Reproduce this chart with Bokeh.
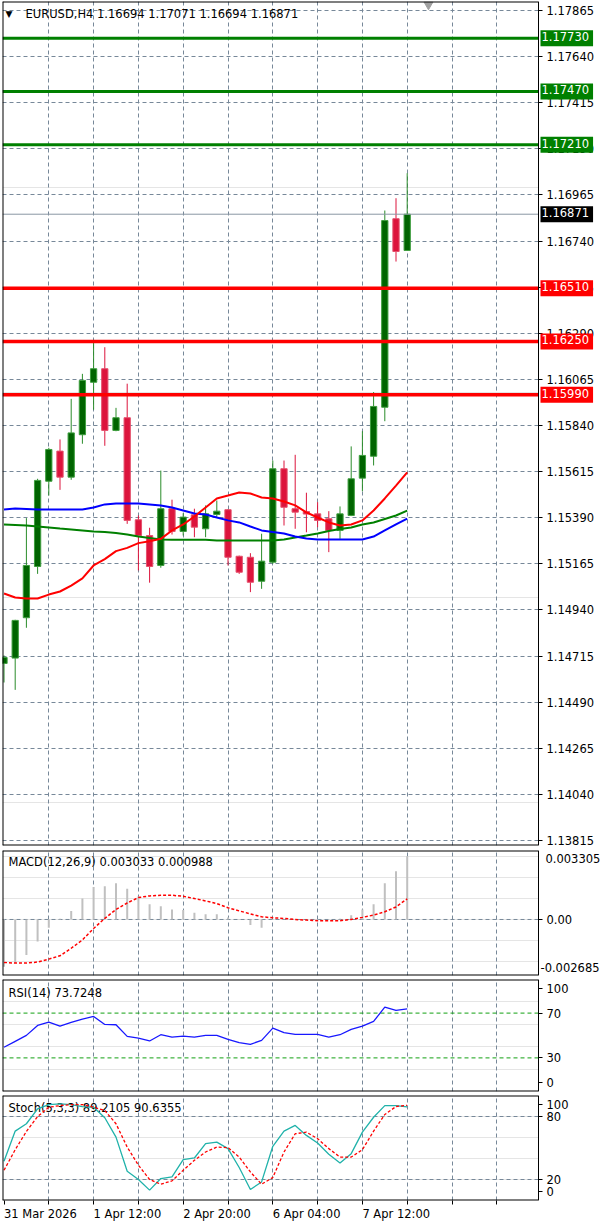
from bokeh.plotting import figure
from bokeh.models import (Range1d, FixedTicker, Grid, Label, LinearAxis, PrintfTickFormatter,
                          ColumnDataSource)
from bokeh.layouts import column
from bokeh.embed import file_html
from bokeh.resources import INLINE

FONT = "DejaVu Sans"
FS = "11.5px"
GRID = "#778899"

# ---------------- data ----------------
symbol = "EURUSD,H4"
opens = [1.14679, 1.14705, 1.14902, 1.15152, 1.15568, 1.15715, 1.15588, 1.15795, 1.16051, 1.16117,
         1.15816, 1.15878, 1.15380, 1.15303, 1.15157, 1.15434, 1.15323, 1.15404, 1.15336, 1.15406,
         1.15429, 1.15202, 1.15197, 1.15080, 1.15173, 1.15629, 1.15434, 1.15420, 1.15409, 1.15385,
         1.15328, 1.15401, 1.15583, 1.15690, 1.15929, 1.16849, 1.16694]
highs = [1.14718, 1.14892, 1.15388, 1.15580, 1.15731, 1.15772, 1.15970, 1.16092, 1.16258, 1.16222,
         1.15926, 1.16044, 1.15401, 1.15341, 1.15620, 1.15478, 1.15412, 1.15434, 1.15450, 1.15474,
         1.15432, 1.15205, 1.15217, 1.15312, 1.15669, 1.15669, 1.15697, 1.15512, 1.15466, 1.15422,
         1.15445, 1.15738, 1.15812, 1.16003, 1.16889, 1.16949, 1.17071]
lows = [1.14586, 1.14550, 1.14853, 1.15116, 1.15498, 1.15526, 1.15575, 1.15751, 1.15917, 1.15741,
        1.15812, 1.15360, 1.15133, 1.15073, 1.15146, 1.15308, 1.15303, 1.15295, 1.15295, 1.15393,
        1.15157, 1.15116, 1.15027, 1.15043, 1.15165, 1.15352, 1.15336, 1.15319, 1.15344, 1.15222,
        1.15287, 1.15398, 1.15519, 1.15645, 1.15861, 1.16640, 1.16694]
closes = [1.14708, 1.14889, 1.15157, 1.15572, 1.15723, 1.15588, 1.15804, 1.16060, 1.16117, 1.15816,
          1.15878, 1.15377, 1.15303, 1.15152, 1.15434, 1.15323, 1.15393, 1.15344, 1.15409, 1.15422,
          1.15197, 1.15124, 1.15075, 1.15178, 1.15629, 1.15441, 1.15417, 1.15408, 1.15377, 1.15328,
          1.15409, 1.15580, 1.15694, 1.15933, 1.16840, 1.16689, 1.16871]

ma_red = [1.15020, 1.15001, 1.14996, 1.14996, 1.15015, 1.15030, 1.15059, 1.15094, 1.15157, 1.15188,
          1.15227, 1.15243, 1.15266, 1.15275, 1.15287, 1.15328, 1.15357, 1.15396, 1.15440, 1.15484,
          1.15498, 1.15513, 1.15508, 1.15489, 1.15484, 1.15469, 1.15450, 1.15416, 1.15391, 1.15367,
          1.15352, 1.15357, 1.15377, 1.15425, 1.15484, 1.15547, 1.15611]
ma_blue = [1.15430, 1.15435, 1.15433, 1.15430, 1.15430, 1.15430, 1.15430, 1.15430, 1.15440, 1.15455,
           1.15459, 1.15459, 1.15459, 1.15455, 1.15450, 1.15440, 1.15425, 1.15411, 1.15406, 1.15391,
           1.15377, 1.15367, 1.15347, 1.15328, 1.15320, 1.15313, 1.15298, 1.15289, 1.15284, 1.15284,
           1.15284, 1.15284, 1.15284, 1.15298, 1.15328, 1.15357, 1.15386]
ma_green = [1.15357, 1.15355, 1.15352, 1.15347, 1.15342, 1.15337, 1.15333, 1.15328, 1.15323, 1.15320,
            1.15315, 1.15308, 1.15298, 1.15291, 1.15284, 1.15283, 1.15283, 1.15283, 1.15282, 1.15279,
            1.15279, 1.15279, 1.15279, 1.15279, 1.15279, 1.15284, 1.15294, 1.15303, 1.15313, 1.15325,
            1.15335, 1.15342, 1.15357, 1.15367, 1.15384, 1.15401, 1.15425]

resistance = [1.17730, 1.17470, 1.17210]
support = [1.16510, 1.16250, 1.15990]
price_ticks = [1.13815, 1.14040, 1.14265, 1.14490, 1.14715, 1.14940, 1.15165, 1.15390, 1.15615,
               1.15840, 1.16065, 1.16290, 1.16515, 1.16740, 1.16965, 1.17190, 1.17415, 1.17640, 1.17865]

macd_main = [-0.00227, -0.00209, -0.00170, -0.00106, -0.00040, 0.00003, 0.00041, 0.00100, 0.00155, 0.00159,
             0.00174, 0.00147, 0.00110, 0.00073, 0.00063, 0.00048, 0.00045, 0.00032, 0.00025, 0.00025,
             0.00010, 0.00002, -0.00027, -0.00040, 0.00002, 0.00001, -0.00001, 0.00001, 0.00002, 0.00001,
             0.00003, 0.00020, 0.00048, 0.00073, 0.00174, 0.00231, 0.003033]
macd_signal = [-0.00206, -0.00209, -0.00209, -0.00204, -0.00190, -0.00174, -0.00138, -0.00098, -0.00043, 0.00005,
               0.00048, 0.00079, 0.00105, 0.00113, 0.00116, 0.00116, 0.00111, 0.00100, 0.00089, 0.00076,
               0.00056, 0.00041, 0.00027, 0.00013, 0.00008, 0.00005, 0.00000, -0.00003, -0.00006, -0.00006,
               -0.00006, 0.00000, 0.00010, 0.00021, 0.00037, 0.00060, 0.000988]
macd_scale = [-0.002685, 0.003305]

rsi = [39.5, 44.8, 50.1, 59.0, 62.0, 58.4, 61.7, 64.6, 67.0, 59.9, 59.6, 49.2, 47.7, 45.1, 50.7, 48.6,
       49.5, 48.6, 50.1, 50.1, 46.6, 43.6, 42.1, 45.7, 56.6, 52.5, 51.0, 51.0, 51.0, 48.6, 50.7, 55.5,
       58.4, 62.6, 75.3, 72.4, 73.7248]
rsi_levels = [70, 30]

stoch_k = [37.3, 66.1, 73.1, 87.3, 91.4, 92.0, 91.4, 89.5, 88.8, 78.8, 60.4, 27.9, 20.0, 9.9, 20.9, 22.5,
           39.0, 40.5, 54.1, 55.6, 49.4, 31.4, 10.5, 17.7, 51.6, 66.1, 71.5, 62.0, 54.7, 44.0, 35.7, 44.6,
           65.1, 79.3, 90.4, 90.4, 89.2105]
stoch_d = [28.8, 48.4, 65.8, 80.0, 88.8, 90.4, 91.4, 91.4, 88.8, 85.7, 73.1, 50.9, 33.6, 20.0, 15.5, 18.7,
           28.8, 38.3, 46.2, 50.9, 50.3, 41.4, 27.2, 15.5, 21.9, 46.2, 63.6, 65.1, 58.9, 49.4, 41.4, 41.4,
           48.4, 66.1, 81.9, 89.5, 90.6355]
stoch_levels = [80, 20]

xtick_pos = [0, 8, 16, 24, 32]
xtick_labels = ["31 Mar 2026", "1 Apr 12:00", "2 Apr 20:00", "6 Apr 04:00", "7 Apr 12:00"]

# ---------------- geometry ----------------
n = len(opens)
idx = list(range(n))
BAR_PX = 11.2                 # pixels per bar
FW = 598                      # frame width (chart area + price-scale strip)
xr = Range1d(-0.134, -0.134 + FW / BAR_PX)
axis_x = -0.134 + 536 / BAR_PX   # position of the price scale line
grid_x = list(range(4, 48, 4))

# approximate DejaVu Sans advance widths (em) used to left-align the date labels at their ticks
_EM = {d: 0.636 for d in "0123456789"}
_EM.update({" ": 0.318, ":": 0.337, "A": 0.684, "p": 0.635, "r": 0.411, "M": 0.863, "a": 0.613})


def text_width_bars(t):
    return sum(_EM.get(ch, 0.6) for ch in t) * 11.5 / BAR_PX


def base(h, yr, bt, bb, below=False):
    f = figure(frame_width=FW, frame_height=h, x_range=xr, y_range=yr,
               output_backend="svg", toolbar_location=None, title=None,
               x_axis_location="below" if below else None, y_axis_location=None,
               min_border_left=2, min_border_right=0, min_border_top=bt, min_border_bottom=bb)
    f.outline_line_color = None
    f.background_fill_color = "white"
    f.border_fill_color = "white"
    f.xgrid.grid_line_color = None
    f.add_layout(Grid(dimension=0, ticker=FixedTicker(ticks=grid_x),
                      grid_line_color=GRID, grid_line_dash="4 3", grid_line_width=1))
    return f


def finish(f):
    yr = f.y_range
    # blank strip behind the price scale
    f.quad(left=[axis_x], right=[xr.end], bottom=[yr.start], top=[yr.end],
           fill_color="white", line_color=None)
    # pane border (left, top, bottom)
    f.segment(x0=[xr.start, xr.start, xr.start], y0=[yr.start, yr.end, yr.start],
              x1=[xr.start, axis_x, axis_x], y1=[yr.end, yr.end, yr.start],
              line_color="black", line_width=2)


def add_yaxis(f, ticks, overrides=None, fmt=None):
    ax = LinearAxis(fixed_location=axis_x, ticker=FixedTicker(ticks=ticks))
    ax.major_label_text_font = FONT
    ax.major_label_text_font_size = FS
    ax.major_label_text_color = "black"
    ax.axis_line_color = "black"
    ax.major_tick_line_color = "black"
    ax.major_tick_in = 0
    ax.major_tick_out = 4
    ax.minor_tick_line_color = None
    ax.major_label_standoff = 4
    if overrides:
        ax.major_label_overrides = overrides
    if fmt:
        ax.formatter = fmt
    f.add_layout(ax, "right")
    return ax


def level_line(f, lv, color, width, dash="solid"):
    f.segment(x0=[xr.start], y0=[lv], x1=[axis_x], y1=[lv], line_color=color,
              line_width=width, line_dash=dash)


def title_label(f, text, yoff):
    f.add_layout(Label(x=xr.start, y=f.y_range.end, x_offset=6, y_offset=yoff, text=text,
                       text_font=FONT, text_font_size=FS, text_color="black",
                       text_baseline="middle", text_align="left", level="underlay"))


# ---------------- price pane ----------------
p = base(844, Range1d(1.137906, 1.179089), 1, 3)
p.add_layout(Grid(dimension=1, ticker=FixedTicker(ticks=price_ticks),
                  grid_line_color=GRID, grid_line_dash="4 3", grid_line_width=1))

bull = [c >= o for o, c in zip(opens, closes)]
src = ColumnDataSource(dict(
    x=idx, h=highs, l=lows,
    top=[max(o, c) for o, c in zip(opens, closes)],
    bot=[min(o, c) for o, c in zip(opens, closes)],
    wick=["#2A8C2A" if b else "#DC143C" for b in bull],
    fill=["#006400" if b else "#DC143C" for b in bull],
    edge=["#3E9E3E" if b else "#E5506C" for b in bull],
))
p.segment(x0="x", y0="h", x1="x", y1="l", line_color="wick", line_width=1, source=src)
p.vbar(x="x", top="top", bottom="bot", width=0.56, fill_color="fill", line_color="edge",
       line_width=1, source=src)

p.line(idx, ma_green, line_color="#008000", line_width=2)
p.line(idx, ma_blue, line_color="#0000FF", line_width=2)
p.line(idx, ma_red, line_color="#FF0000", line_width=2)

last = closes[-1]
level_line(p, last, "#8A96A3", 1)
for lv in resistance:
    level_line(p, lv, "#008000", 3)
for lv in support:
    level_line(p, lv, "#FF0000", 3.5)

p.scatter([n + 0.9], [p.y_range.end - 0.00015], marker="inverted_triangle", size=9,
          fill_color="#A0A0A0", line_color="#A0A0A0")
finish(p)
add_yaxis(p, price_ticks, fmt=PrintfTickFormatter(format="%.5f"))

for lv, col in [(v, "#008000") for v in resistance] + [(v, "#FF0000") for v in support] + [(last, "#000000")]:
    p.add_layout(Label(x=axis_x, y=lv, x_offset=2, text=f"{lv:.5f}", text_font=FONT,
                       text_font_size=FS, text_color="white", background_fill_color=col,
                       text_baseline="middle", text_align="left", padding=(1, 4, 2, 5)))

p.add_layout(Label(x=xr.start, y=p.y_range.end, x_offset=3, y_offset=-12, text="\u25BC",
                   text_font=FONT, text_font_size="9px", text_color="black",
                   text_baseline="middle", text_align="left"))
p.add_layout(Label(x=xr.start, y=p.y_range.end, x_offset=23, y_offset=-12,
                   text=f"{symbol}  {opens[-1]:.5f} {highs[-1]:.5f} {lows[-1]:.5f} {closes[-1]:.5f}",
                   text_font=FONT, text_font_size=FS, text_color="black",
                   text_baseline="middle", text_align="left", level="underlay"))

# ---------------- MACD pane ----------------
m = base(125, Range1d(macd_scale[0], macd_scale[1]), 2, 2)
level_line(m, 0, GRID, 1, "4 3")
m.vbar(x=idx, top=macd_main, bottom=0, width=0.18, fill_color="#C0C0C0", line_color=None)
m.line(idx, macd_signal, line_color="#FF0000", line_width=1.5, line_dash="3 2")
finish(m)
add_yaxis(m, [0], {0: "0.00"})
for v, off, dx in [(macd_scale[1], -8, 7), (macd_scale[0], 8, 2)]:
    m.add_layout(Label(x=axis_x, y=v, x_offset=dx, y_offset=off, text=f"{v:.6f}", text_font=FONT,
                       text_font_size=FS, text_color="black", text_baseline="middle", text_align="left"))
title_label(m, f"MACD(12,26,9) {macd_main[-1]:.6f} {macd_signal[-1]:.6f}", -11)

# ---------------- RSI pane ----------------
r = base(112, Range1d(0, 100), 2, 2)
for lv in rsi_levels:
    level_line(r, lv, "#12A012", 1, "4 3")
r.line(idx, rsi, line_color="#1818FF", line_width=1.3)
finish(r)
add_yaxis(r, [92, 70, 30, 8], {92: "100", 8: "0"})
title_label(r, f"RSI(14) {rsi[-1]:.4f}", -13)

# ---------------- Stochastic pane ----------------
s = base(105, Range1d(0, 100), 2, 21, below=True)
for lv in stoch_levels:
    level_line(s, lv, GRID, 1, "4 3")
s.line(idx, stoch_k, line_color="#20B2AA", line_width=1.3)
s.line(idx, stoch_d, line_color="#FF0000", line_width=1.3, line_dash="3 2")
finish(s)
add_yaxis(s, [91, 80, 20, 9], {91: "100", 9: "0"})
title_label(s, f"Stoch(5,3,3) {stoch_k[-1]:.4f} {stoch_d[-1]:.4f}", -12)

label_pos = [k + text_width_bars(t) / 2 for k, t in zip(xtick_pos, xtick_labels)]
xa = s.xaxis[0]
xa.ticker = FixedTicker(ticks=label_pos, minor_ticks=[0] + grid_x)
xa.major_label_overrides = dict(zip(label_pos, xtick_labels))
xa.major_label_text_font = FONT
xa.major_label_text_font_size = FS
xa.major_label_text_color = "black"
xa.axis_line_color = None
xa.major_tick_line_color = None
xa.major_tick_in = 0
xa.major_tick_out = 4
xa.minor_tick_in = 0
xa.minor_tick_out = 4
xa.minor_tick_line_color = "black"
xa.major_label_standoff = 2

layout = column(p, m, r, s, spacing=0)
open("out.html", "w").write(file_html(layout, INLINE))
